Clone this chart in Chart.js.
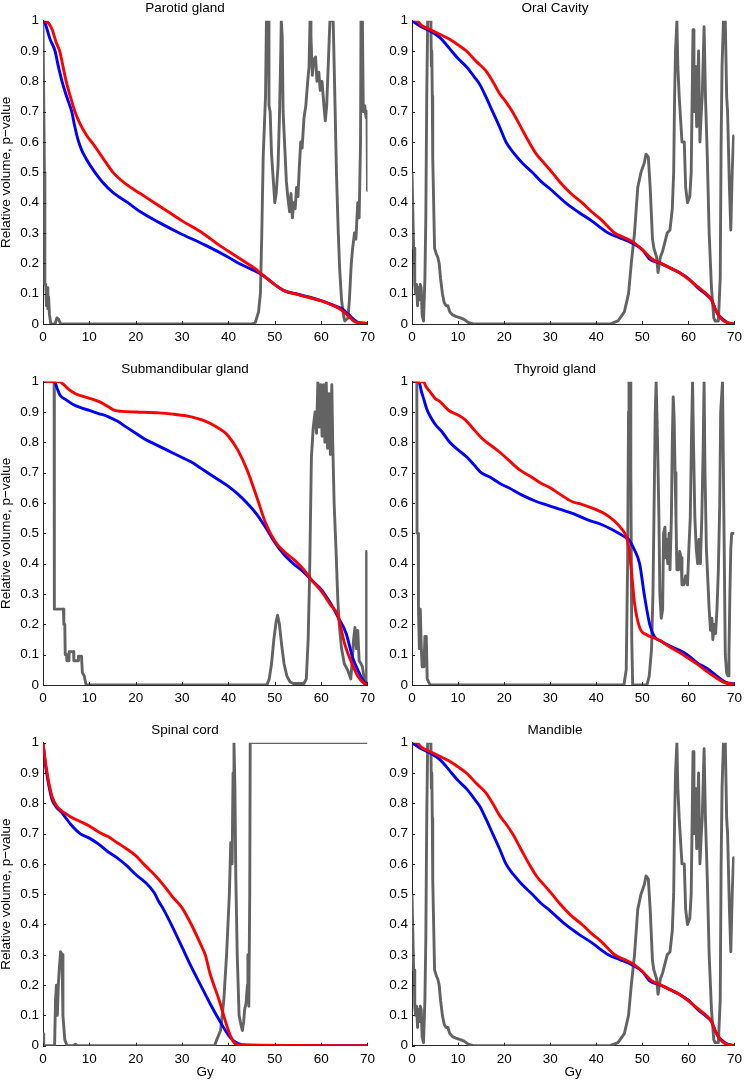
<!DOCTYPE html>
<html>
<head>
<meta charset="utf-8">
<script src="https://cdn.jsdelivr.net/npm/chart.js@4.4.1/dist/chart.umd.min.js"></script>
<style>
    body { margin: 0; background: #fff; width: 747px; height: 1082px; position: relative; overflow: hidden; }
    canvas { position: absolute; }
</style>
</head>
<body>
<canvas id="c0" width="380" height="348" style="left:0;top:0"></canvas>
<canvas id="c1" width="375" height="348" style="left:372px;top:0"></canvas>
<canvas id="c2" width="380" height="348" style="left:0;top:361px"></canvas>
<canvas id="c3" width="375" height="348" style="left:372px;top:361px"></canvas>
<canvas id="c4" width="380" height="360" style="left:0;top:722px"></canvas>
<canvas id="c5" width="375" height="360" style="left:372px;top:722px"></canvas>
<script>
// [dose (Gy), relative volume or p-value]

const parotidBlue = [[0,1],[0.5,0.99],[1,0.965],[1.5,0.94],[2.6,0.9],[3.3,0.85],[4.1,0.8],[5.1,0.75],[6.2,0.7],[6.8,0.655],[7.5,0.61],[8.3,0.575],[9.3,0.545],[11.2,0.5],[13,0.465],[15,0.435],[18.3,0.4],[21,0.37],[25,0.335],[29.4,0.3],[35,0.26],[40,0.22],[42.2,0.2],[45,0.18],[47.5,0.16],[50,0.13],[52,0.11],[55,0.098],[60,0.077],[63,0.06],[64.5,0.05],[66,0.03],[67,0.015],[68,0.005],[70,0.002]];
const parotidRed = [[0,1],[1,0.995],[2,0.97],[2.8,0.93],[3.6,0.9],[4.3,0.85],[5,0.8],[5.9,0.75],[6.9,0.7],[8,0.66],[9.5,0.62],[11,0.59],[13,0.545],[15.1,0.5],[18,0.46],[21,0.43],[24,0.4],[27,0.37],[30,0.34],[34.4,0.3],[38,0.26],[41,0.23],[44,0.2],[46,0.18],[47.5,0.16],[50,0.13],[52,0.11],[55,0.097],[60,0.076],[63,0.058],[64.5,0.045],[66,0.025],[67,0.01],[68,0.004],[70,0.002]];
const parotidP = [[0,1],[0.2,1],[0.3,0.5],[0.4,0.13],[0.6,0.13],[0.75,0.06],[0.9,0.12],[1.05,0.05],[1.2,0.09],[1.4,0.03],[1.7,0],[2.6,0],[3,0.02],[3.4,0.015],[3.8,0],[45,0],[45.8,0.005],[46.5,0.04],[46.9,0.1],[47.2,0.3],[47.5,0.55],[48,0.75],[48.2,1],[48.6,1],[48.75,0.72],[49,0.7],[49.3,0.56],[49.7,0.47],[50,0.4],[50.3,0.43],[50.7,0.52],[51,0.68],[51.3,0.9],[51.4,1],[51.6,0.95],[51.8,0.7],[52.1,0.6],[52.5,0.47],[52.8,0.42],[53.2,0.37],[53.5,0.43],[53.8,0.35],[54.1,0.4],[54.4,0.38],[54.7,0.45],[55,0.42],[55.3,0.52],[55.6,0.6],[55.9,0.58],[56.3,0.68],[56.7,0.72],[57.1,0.8],[57.4,0.85],[57.6,1],[57.8,0.95],[58.1,0.82],[58.4,0.87],[58.8,0.88],[59.1,0.8],[59.5,0.83],[59.8,0.77],[60.2,0.8],[60.6,0.72],[60.9,0.67],[61.2,0.72],[61.6,0.88],[61.9,1],[62.6,1],[63,0.72],[63.3,0.5],[63.7,0.3],[64,0.18],[64.4,0.08],[64.8,0.03],[65.1,0.01],[65.8,0.02],[66.1,0.08],[66.5,0.2],[66.8,0.25],[67.2,0.3],[67.5,0.28],[67.9,0.4],[68.2,0.35],[68.5,0.6],[68.6,1],[68.9,1],[69.1,0.7],[69.4,0.72],[69.7,0.68],[69.9,0.7],[70,0.44]];

const oralBlue = [[0,1],[1,0.99],[2,0.98],[4,0.965],[6,0.945],[7.5,0.92],[8.6,0.9],[10,0.875],[12,0.845],[13.5,0.815],[14.7,0.79],[16,0.75],[17.5,0.7],[19,0.65],[20.4,0.6],[22,0.565],[24,0.53],[26.1,0.5],[28,0.47],[30,0.445],[33.3,0.4],[36,0.37],[39,0.34],[42.6,0.3],[45,0.285],[48,0.265],[50,0.245],[51.5,0.215],[54,0.2],[56,0.185],[58,0.17],[60,0.15],[62,0.12],[64,0.095],[65,0.08],[65.8,0.05],[66.5,0.03],[67.5,0.015],[68.5,0.005],[70,0]];
const oralRed = [[0,1],[1,1],[2,0.985],[4,0.97],[6,0.955],[8,0.94],[10,0.92],[11.8,0.9],[14,0.865],[16,0.835],[17.5,0.8],[19,0.76],[20.5,0.73],[21.8,0.7],[23.6,0.65],[25.4,0.6],[27,0.56],[28.7,0.53],[30.4,0.5],[32,0.47],[34.5,0.43],[36.9,0.4],[39,0.37],[41,0.345],[44,0.3],[46,0.285],[48,0.27],[50,0.245],[52,0.215],[54,0.2],[56,0.185],[58,0.17],[60,0.148],[62,0.123],[64,0.098],[65,0.08],[65.8,0.05],[66.5,0.03],[67.5,0.012],[68.5,0.004],[70,0]];
const oralP = [[0,0.5],[0.2,0.5],[0.35,0.25],[0.5,0.25],[0.6,0.13],[0.8,0.1],[1,0.13],[1.2,0.06],[1.4,0.12],[1.6,0.08],[1.8,0.13],[2,0.12],[2.2,0.03],[2.5,0.01],[2.8,0.15],[3,0.35],[3.2,0.75],[3.4,1],[4.1,1],[4.2,0.85],[4.3,0.9],[4.4,0.75],[4.5,0.55],[4.7,0.4],[4.9,0.25],[5.3,0.23],[5.6,0.22],[5.9,0.2],[6.2,0.15],[6.6,0.1],[7,0.07],[7.4,0.06],[7.8,0.06],[8.2,0.04],[8.8,0.03],[9.5,0.025],[10.5,0.02],[11.3,0.015],[12.2,0.005],[13.3,0],[43,0],[44.7,0.01],[46.1,0.04],[47,0.1],[47.6,0.2],[48.3,0.3],[49,0.45],[49.7,0.5],[50.4,0.53],[50.8,0.56],[51.3,0.55],[51.7,0.45],[52.2,0.28],[52.5,0.25],[53.1,0.22],[53.4,0.17],[53.9,0.22],[54.4,0.24],[54.9,0.27],[55.4,0.3],[56,0.31],[56.5,0.38],[56.8,0.5],[57,0.75],[57.2,0.9],[57.5,1],[57.7,0.85],[58,0.75],[58.6,0.6],[59.1,0.6],[59.4,0.45],[59.8,0.4],[60.3,0.42],[60.6,0.5],[61,0.97],[61.2,0.7],[61.5,0.85],[61.8,0.65],[62.2,0.9],[62.5,0.6],[62.8,0.7],[63,0.75],[63.4,0.98],[63.7,0.75],[64.1,0.55],[64.5,0.3],[65,0.12],[65.5,0.02],[65.8,0.01],[66.5,0.01],[66.9,0.15],[67.1,0.6],[67.3,0.85],[67.6,1],[68,1],[68.3,0.75],[68.5,0.7],[68.9,0.45],[69.2,0.31],[69.5,0.5],[69.8,0.62],[70,0.62]];

const submandBlue = [[0,1],[2.5,1],[3,0.98],[3.7,0.955],[5,0.94],[6.5,0.925],[8,0.915],[10,0.905],[12,0.895],[14,0.885],[16,0.87],[18,0.85],[20,0.83],[22,0.81],[24,0.795],[26,0.78],[28,0.765],[30,0.75],[32,0.735],[34,0.715],[36,0.695],[38,0.675],[40,0.655],[42,0.63],[44,0.6],[46,0.565],[48,0.52],[50,0.47],[52,0.43],[54,0.4],[56,0.375],[58,0.345],[60,0.315],[62,0.27],[63.6,0.225],[65.4,0.17],[66.8,0.09],[67.9,0.05],[69.3,0.01],[70,0.005]];
const submandRed = [[0,1],[3.5,1],[4.5,0.99],[5.5,0.975],[7,0.96],[8.5,0.952],[10,0.945],[12,0.935],[14,0.918],[15.5,0.905],[17,0.902],[20,0.9],[25,0.897],[28,0.893],[31,0.887],[33,0.88],[35,0.87],[37,0.855],[39,0.835],[40,0.82],[42,0.775],[44,0.71],[46,0.625],[48,0.535],[50,0.475],[52,0.44],[54,0.415],[56,0.385],[58,0.345],[60,0.31],[62,0.265],[63.6,0.23],[65,0.14],[66.4,0.08],[67.9,0.03],[69.3,0.005],[70,0.002]];
const submandP = [[0,1],[2.4,1],[2.45,0.25],[4.4,0.25],[4.5,0.2],[4.7,0.2],[4.8,0.1],[5.1,0.1],[5.15,0.08],[5.6,0.08],[5.65,0.11],[6.6,0.11],[6.65,0.08],[7.6,0.08],[7.65,0.095],[8.3,0.095],[8.5,0.04],[8.9,0.03],[9.3,0],[48.3,0],[48.8,0.02],[49.3,0.07],[49.8,0.15],[50.3,0.21],[50.6,0.23],[51,0.2],[51.5,0.13],[52,0.07],[52.6,0.03],[53.3,0.01],[54,0.005],[56.3,0.005],[56.8,0.02],[57.2,0.15],[57.5,0.35],[57.9,0.75],[58.3,0.85],[58.7,0.9],[59,0.83],[59.3,1],[59.6,0.85],[59.9,0.99],[60.2,0.82],[60.5,0.99],[60.8,0.8],[61.1,1],[61.4,0.78],[61.7,0.96],[62,0.76],[62.3,0.99],[62.5,0.8],[62.8,0.6],[63.2,0.45],[63.6,0.28],[63.9,0.2],[64.4,0.12],[65,0.07],[65.7,0.05],[66.4,0.02],[66.8,0.1],[67,0.15],[67.3,0.19],[67.6,0.12],[67.9,0.18],[68.2,0.08],[68.6,0.07],[68.9,0.06],[69.3,0.02],[69.7,0.005],[69.8,0.44],[70,0.44]];

const thyroidBlue = [[0,1],[1.5,1],[2,0.97],[2.6,0.94],[3.2,0.91],[3.8,0.89],[5,0.86],[6.5,0.835],[8.2,0.8],[10,0.775],[12,0.75],[13.5,0.725],[15,0.7],[17,0.685],[19,0.665],[21,0.65],[24,0.625],[27,0.605],[29,0.595],[32,0.58],[35,0.565],[38,0.545],[41,0.53],[43.7,0.51],[46,0.49],[47,0.48],[48.3,0.445],[49.4,0.4],[50.5,0.29],[51.6,0.2],[52.6,0.16],[54,0.145],[56,0.128],[58,0.115],[60,0.097],[62,0.072],[64,0.055],[66,0.032],[68,0.01],[70,0.003]];
const thyroidRed = [[0,1],[2.5,1],[3,0.985],[4,0.965],[5,0.945],[6,0.935],[7,0.92],[8,0.905],[10,0.89],[11.5,0.875],[13,0.85],[15.4,0.81],[18,0.78],[20,0.755],[23.3,0.71],[26,0.685],[28,0.665],[30,0.65],[32,0.63],[34.7,0.605],[37,0.595],[40,0.578],[42,0.563],[44,0.54],[45.5,0.515],[46.5,0.49],[47,0.46],[47.6,0.38],[48.3,0.27],[49.4,0.19],[51,0.165],[52.6,0.155],[54,0.145],[56,0.125],[58,0.108],[60,0.088],[62,0.068],[64,0.045],[66,0.024],[68,0.007],[70,0.002]];
const thyroidP = [[0,1],[1.05,1],[1.1,0.5],[1.35,0.5],[1.4,0.25],[1.6,0.12],[1.8,0.25],[2,0.13],[2.2,0.06],[2.4,0.1],[2.6,0.06],[2.8,0.16],[3.1,0.16],[3.3,0.02],[3.6,0.01],[4,0],[46,0],[46.5,0.05],[46.8,0.4],[47,0.9],[47.1,1],[47.4,1],[47.5,0.7],[47.7,0.15],[47.9,0],[51,0],[51.5,0.03],[52,0.12],[52.3,0.3],[52.6,0.65],[52.8,0.9],[53,1],[53.3,0.8],[53.6,0.55],[53.8,0.3],[54.1,0.22],[54.4,0.25],[54.6,0.5],[54.9,0.52],[55.1,0.42],[55.3,0.48],[55.5,0.4],[55.8,0.5],[56,0.38],[56.3,0.55],[56.5,0.8],[56.7,0.95],[56.9,0.88],[57.1,0.7],[57.3,0.55],[57.5,0.38],[57.9,0.38],[58.1,0.44],[58.4,0.42],[58.6,0.33],[59,0.33],[59.4,0.36],[59.8,0.33],[60.1,0.45],[60.4,0.55],[60.7,0.85],[60.9,1],[61.1,0.8],[61.4,0.55],[61.7,0.45],[62,0.4],[62.3,0.48],[62.6,0.4],[62.9,0.55],[63.2,0.78],[63.4,1],[63.6,0.7],[63.9,0.45],[64.2,0.35],[64.5,0.25],[64.8,0.18],[65.1,0.22],[65.3,0.15],[65.6,0.2],[65.9,0.17],[66.2,0.25],[66.5,0.38],[66.8,0.6],[67,0.9],[67.2,0.95],[67.4,1],[67.6,0.7],[67.8,0.4],[68,0.1],[68.3,0.04],[68.6,0.03],[68.8,0.1],[69,0.3],[69.2,0.45],[69.4,0.5],[70,0.5]];

const spinalBlue = [[0,1],[0.5,0.93],[1,0.88],[1.5,0.84],[2,0.81],[3,0.785],[4,0.77],[5,0.75],[6,0.73],[8,0.7],[10,0.685],[12,0.665],[14,0.64],[16,0.62],[18,0.595],[20,0.565],[22,0.54],[24,0.505],[25,0.475],[26,0.45],[28,0.39],[30,0.325],[32,0.26],[34,0.2],[36,0.14],[38,0.085],[40,0.035],[41,0.018],[42,0.008],[43,0.003],[45,0.001],[70,0]];
const spinalRed = [[0,1],[0.5,0.94],[1,0.89],[1.5,0.85],[2,0.82],[3,0.79],[4,0.775],[5,0.765],[6,0.755],[8,0.74],[10,0.725],[12,0.705],[14,0.69],[16,0.67],[18,0.65],[20,0.627],[22,0.595],[24,0.565],[26,0.53],[28,0.49],[30,0.455],[32,0.4],[34,0.335],[35,0.3],[36,0.24],[38,0.15],[40,0.05],[41,0.015],[42,0.003],[70,0]];
const spinalP = [[0,0.04],[0.1,0.04],[0.2,0],[2.5,0],[2.7,0.15],[2.9,0.2],[3.1,0.1],[3.3,0.2],[3.5,0.25],[3.8,0.31],[4.1,0.3],[4.3,0.1],[4.7,0.02],[5.2,0],[6.5,0],[7,0.005],[7.5,0],[37,0],[37.5,0.02],[38.3,0.05],[39,0.15],[39.6,0.3],[40.2,0.5],[40.5,0.67],[40.8,0.6],[41,0.9],[41.2,1],[41.4,0.85],[41.6,0.55],[41.9,0.3],[42.3,0.1],[42.7,0.07],[43,0.05],[43.3,0.08],[43.5,0.12],[43.8,0.14],[44.1,0.2],[44.2,0.3],[44.4,0.13],[44.6,0.5],[44.7,1],[70,1]];

// the mandible panel shows the same curves as the oral cavity panel
const mandibleBlue = oralBlue;
const mandibleRed = oralRed;
const mandibleP = oralP;

const doseTicks = [0, 10, 20, 30, 40, 50, 60, 70];
const volumeTicks = [0, 0.1, 0.2, 0.3, 0.4, 0.5, 0.6, 0.7, 0.8, 0.9, 1];

const panels = [
    { id: 'c0', title: 'Parotid gland', blue: parotidBlue, red: parotidRed, p: parotidP, left: true, bottom: false },
    { id: 'c1', title: 'Oral Cavity', blue: oralBlue, red: oralRed, p: oralP, left: false, bottom: false },
    { id: 'c2', title: 'Submandibular gland', blue: submandBlue, red: submandRed, p: submandP, left: true, bottom: false },
    { id: 'c3', title: 'Thyroid gland', blue: thyroidBlue, red: thyroidRed, p: thyroidP, left: false, bottom: false },
    { id: 'c4', title: 'Spinal cord', blue: spinalBlue, red: spinalRed, p: spinalP, left: true, bottom: true },
    { id: 'c5', title: 'Mandible', blue: mandibleBlue, red: mandibleRed, p: mandibleP, left: false, bottom: true }
];

const FONT = "'Liberation Sans', Arial, sans-serif";

// MATLAB style tick marks pointing into the plot
const inwardTicks = {
    id: 'inwardTicks',
    afterDraw(chart) {
        const { ctx, chartArea: a, scales: { x, y } } = chart;
        ctx.save();
        ctx.strokeStyle = '#262626';
        ctx.lineWidth = 1;
        ctx.beginPath();
        x.ticks.forEach(t => {
            const px = Math.round(x.getPixelForValue(t.value)) + 0.5;
            ctx.moveTo(px, a.bottom);
            ctx.lineTo(px, a.bottom - 3);
        });
        y.ticks.forEach(t => {
            const py = Math.round(y.getPixelForValue(t.value)) + 0.5;
            ctx.moveTo(a.left, py);
            ctx.lineTo(a.left + 3, py);
        });
        ctx.stroke();
        ctx.restore();
    }
};

function toXY(arr) {
    return arr.map(([x, y]) => ({ x: x, y: y }));
}

function line(data, color, smooth) {
    return {
        data: toXY(data),
        borderColor: color,
        backgroundColor: color,
        borderWidth: 2.9,
        pointRadius: 0,
        tension: 0,
        cubicInterpolationMode: smooth ? 'monotone' : 'default',
        borderJoinStyle: 'round',
        clip: 0
    };
}

panels.forEach(panel => {
    const yWidth = panel.left ? 43 : 40;
    const xHeight = panel.bottom ? 36.3 : 24;
    const ctx = document.getElementById(panel.id).getContext('2d');

    new Chart(ctx, {
        type: 'line',
        data: {
            datasets: [
                line(panel.red, '#ff0000', true),
                line(panel.blue, '#0000ff', true),
                line(panel.p, '#636363', false)
            ]
        },
        options: {
            responsive: false,
            animation: false,
            events: [],
            layout: { padding: { left: 0, top: 0, bottom: 0, right: panel.left ? 10 : 9 } },
            plugins: {
                legend: { display: false },
                tooltip: { enabled: false },
                title: {
                    display: true,
                    text: panel.title,
                    color: '#000',
                    font: { family: FONT, size: 13.5, weight: 'normal', lineHeight: 1.16 },
                    padding: { top: 0, bottom: 5 }
                }
            },
            scales: {
                x: {
                    type: 'linear',
                    min: 0,
                    max: 70,
                    afterBuildTicks: scale => { scale.ticks = doseTicks.map(v => ({ value: v })); },
                    afterFit: scale => { scale.height = xHeight; },
                    grid: { display: false, drawTicks: false },
                    border: { display: true, color: '#262626', width: 1 },
                    ticks: { color: '#000', padding: 5, maxRotation: 0, font: { family: FONT, size: 13.5 } },
                    title: {
                        display: panel.bottom,
                        text: 'Gy',
                        color: '#000',
                        font: { family: FONT, size: 13.5, lineHeight: 1.2 },
                        padding: { top: 0, bottom: 2 }
                    }
                },
                y: {
                    type: 'linear',
                    min: 0,
                    max: 1,
                    afterBuildTicks: scale => { scale.ticks = volumeTicks.map(v => ({ value: v })); },
                    afterFit: scale => { scale.width = yWidth; },
                    grid: { display: false, drawTicks: false },
                    border: { display: true, color: '#262626', width: 1 },
                    ticks: {
                        color: '#000',
                        padding: 4,
                        font: { family: FONT, size: 13.5 },
                        callback: v => String(Number(v.toFixed(1)))
                    },
                    title: {
                        display: panel.left,
                        text: 'Relative volume, p\u2212value',
                        color: '#000',
                        font: { family: FONT, size: 13.5, lineHeight: 1 },
                        padding: { top: 0, bottom: 0 }
                    }
                }
            }
        },
        plugins: [inwardTicks]
    });
});
</script>
</body>
</html>
